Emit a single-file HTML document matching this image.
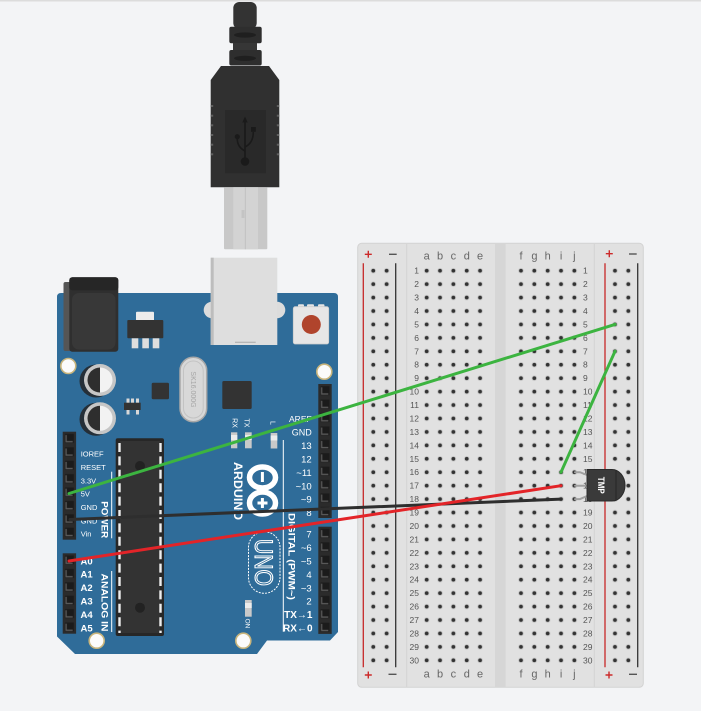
<!DOCTYPE html>
<html><head><meta charset="utf-8"><style>
html,body{margin:0;padding:0;background:#f3f4f6;}
svg{display:block;}
text{font-family:"Liberation Sans",sans-serif;}
.m{font-family:"Liberation Mono","DejaVu Sans Mono",monospace;font-weight:bold;}
</style></head><body>
<svg width="701" height="711" viewBox="0 0 701 711" xmlns="http://www.w3.org/2000/svg">
<defs>
<pattern id="hole" patternUnits="userSpaceOnUse" width="13.35" height="13.435">
<circle cx="6.675" cy="6.72" r="2.9" fill="#cdcdcd"/>
<circle cx="6.675" cy="6.72" r="1.9" fill="#333"/>
</pattern>
<pattern id="pin" patternUnits="userSpaceOnUse" width="13.4" height="13.4">
<rect x="2.2" y="2.2" width="9" height="9" fill="#1b1b1b"/>
<path d="M3.4,3.4V10H10" stroke="#5a5a5a" stroke-width="1.3" fill="none"/>
</pattern>
</defs>
<rect width="701" height="711" fill="#f3f4f6"/>
<rect width="701" height="1.5" fill="#dcdcdc"/>

<!-- ============ BREADBOARD ============ -->
<rect x="357.7" y="243.3" width="285.6" height="444" rx="4" fill="#e1e1e1" stroke="#d3d3d3"/>
<rect x="495" y="243.8" width="10.7" height="443" fill="#d6d6d6"/>
<line x1="406.7" y1="244" x2="406.7" y2="687" stroke="#d4d4d4"/>
<line x1="594.3" y1="244" x2="594.3" y2="687" stroke="#d4d4d4"/>
<!-- rail lines -->
<line x1="363.3" y1="263.3" x2="363.3" y2="667.3" stroke="#c62828" stroke-width="1.3"/>
<line x1="395.7" y1="263.3" x2="395.7" y2="667.3" stroke="#333" stroke-width="1.3"/>
<line x1="605" y1="263.3" x2="605" y2="667.3" stroke="#c62828" stroke-width="1.3"/>
<line x1="637.7" y1="263.3" x2="637.7" y2="667.3" stroke="#333" stroke-width="1.3"/>
<!-- + / - signs -->
<g stroke="#cc2a2a" stroke-width="1.4">
<path d="M364.8,254.3h7M368.3,250.8v7"/>
<path d="M364.8,675h7M368.3,671.5v7"/>
<path d="M605.8,253.7h7M609.3,250.2v7"/>
<path d="M605.5,675h7M609,671.5v7"/>
</g>
<g stroke="#555" stroke-width="1.4">
<path d="M389,254.3h7.7"/>
<path d="M388.5,674.3h8"/>
<path d="M629,254h7.7"/>
<path d="M629,674.3h8"/>
</g>
<!-- holes -->
<g transform="translate(366.6,263.98)"><rect width="26.7" height="403.05" fill="url(#hole)"/></g>
<g transform="translate(420.0,263.98)"><rect width="66.75" height="403.05" fill="url(#hole)"/></g>
<g transform="translate(514.3,263.98)"><rect width="66.75" height="403.05" fill="url(#hole)"/></g>
<g transform="translate(608.3,263.98)"><rect width="26.7" height="403.05" fill="url(#hole)"/></g>
<!-- letters -->
<g font-size="11" fill="#666" text-anchor="middle">
<text x="426.7" y="259.3">a</text><text x="440" y="259.3">b</text><text x="453.4" y="259.3">c</text><text x="466.8" y="259.3">d</text><text x="480.1" y="259.3">e</text>
<text x="521" y="259.3">f</text><text x="534.4" y="259.3">g</text><text x="547.7" y="259.3">h</text><text x="561.1" y="259.3">i</text><text x="574.4" y="259.3">j</text>
<text x="426.7" y="677.3">a</text><text x="440" y="677.3">b</text><text x="453.4" y="677.3">c</text><text x="466.8" y="677.3">d</text><text x="480.1" y="677.3">e</text>
<text x="521" y="677.3">f</text><text x="534.4" y="677.3">g</text><text x="547.7" y="677.3">h</text><text x="561.1" y="677.3">i</text><text x="574.4" y="677.3">j</text>
</g>
<!-- row numbers -->
<g font-size="8.5" fill="#555" text-anchor="end">
<text x="419" y="273.7">1</text><text x="419" y="287.1">2</text><text x="419" y="300.6">3</text><text x="419" y="314">4</text><text x="419" y="327.4">5</text>
<text x="419" y="340.9">6</text><text x="419" y="354.3">7</text><text x="419" y="367.7">8</text><text x="419" y="381.2">9</text><text x="419" y="394.6">10</text>
<text x="419" y="408.1">11</text><text x="419" y="421.5">12</text><text x="419" y="434.9">13</text><text x="419" y="448.4">14</text><text x="419" y="461.8">15</text>
<text x="419" y="475.2">16</text><text x="419" y="488.7">17</text><text x="419" y="502.1">18</text><text x="419" y="515.5">19</text><text x="419" y="529">20</text>
<text x="419" y="542.4">21</text><text x="419" y="555.8">22</text><text x="419" y="569.3">23</text><text x="419" y="582.7">24</text><text x="419" y="596.1">25</text>
<text x="419" y="609.6">26</text><text x="419" y="623">27</text><text x="419" y="636.4">28</text><text x="419" y="649.9">29</text><text x="419" y="663.3">30</text>
</g>
<g font-size="8.5" fill="#555">
<text x="583" y="273.7">1</text><text x="583" y="287.1">2</text><text x="583" y="300.6">3</text><text x="583" y="314">4</text><text x="583" y="327.4">5</text>
<text x="583" y="340.9">6</text><text x="583" y="354.3">7</text><text x="583" y="367.7">8</text><text x="583" y="381.2">9</text><text x="583" y="394.6">10</text>
<text x="583" y="408.1">11</text><text x="583" y="421.5">12</text><text x="583" y="434.9">13</text><text x="583" y="448.4">14</text><text x="583" y="461.8">15</text>
<text x="583" y="475.2">16</text><text x="583" y="488.7">17</text><text x="583" y="502.1">18</text><text x="583" y="515.5">19</text><text x="583" y="529">20</text>
<text x="583" y="542.4">21</text><text x="583" y="555.8">22</text><text x="583" y="569.3">23</text><text x="583" y="582.7">24</text><text x="583" y="596.1">25</text>
<text x="583" y="609.6">26</text><text x="583" y="623">27</text><text x="583" y="636.4">28</text><text x="583" y="649.9">29</text><text x="583" y="663.3">30</text>
</g>

<!-- TMP sensor -->
<g stroke="#a0a0a0" stroke-width="2" fill="none" stroke-linecap="round">
<path d="M575,472.2H580L587,475"/>
<path d="M575,485.7H587"/>
<path d="M575,499.1H580L587,496"/>
</g>
<path d="M587,469.5H612A13,15.75 0 0 1 612,501H587Z" fill="#3a3a3a" stroke="#2a2a2a" stroke-width="1"/>
<line x1="616" y1="470.5" x2="616" y2="500" stroke="#2a2a2a" stroke-width="1.2"/>
<text transform="translate(598.2,485.3) rotate(90)" font-size="9.5" font-weight="bold" fill="#fff" text-anchor="middle" textLength="17" lengthAdjust="spacingAndGlyphs">TMP</text>

<!-- ============ USB PLUG ============ -->
<rect x="233.3" y="2" width="23.4" height="27" rx="6" fill="#333"/>
<rect x="229.3" y="26.7" width="32.4" height="16.6" rx="2" fill="#2e2e2e"/>
<rect x="233" y="43" width="24" height="8" fill="#363636"/>
<rect x="229.3" y="50" width="32.4" height="15.5" rx="2" fill="#2e2e2e"/>
<ellipse cx="245" cy="35" rx="11" ry="2.6" fill="#1f1f1f"/>
<ellipse cx="245" cy="58.3" rx="11" ry="2.6" fill="#1f1f1f"/>
<path d="M221,66H269L279.3,80V187.3H210.7V80Z" fill="#303030"/>
<g fill="#5e5e5e">
<rect x="210.7" y="105" width="2.5" height="2"/><rect x="210.7" y="114.7" width="2.5" height="2"/><rect x="210.7" y="124.3" width="2.5" height="2"/><rect x="210.7" y="134" width="2.5" height="2"/><rect x="210.7" y="143.7" width="2.5" height="2"/><rect x="210.7" y="153.3" width="2.5" height="2"/>
<rect x="276.8" y="105" width="2.5" height="2"/><rect x="276.8" y="114.7" width="2.5" height="2"/><rect x="276.8" y="124.3" width="2.5" height="2"/><rect x="276.8" y="134" width="2.5" height="2"/><rect x="276.8" y="143.7" width="2.5" height="2"/><rect x="276.8" y="153.3" width="2.5" height="2"/>
</g>
<rect x="225" y="110" width="41" height="63.3" fill="#292929"/>
<g stroke="#1a1a1a" stroke-width="1.6" fill="none">
<path d="M245,121V158"/>
<path d="M245,151Q237.3,147 237.3,139"/>
<path d="M245,147Q253.3,143 253.3,132"/>
</g>
<g fill="#1a1a1a">
<path d="M245,116.5L242.3,122.5H247.7Z"/>
<circle cx="237.3" cy="136.7" r="2.6"/>
<rect x="251" y="127" width="4.8" height="4.8"/>
<circle cx="245" cy="161.5" r="4.3"/>
</g>
<rect x="224" y="187.3" width="43.3" height="62" rx="1" fill="#c8c8c8"/>
<rect x="233.3" y="187.3" width="24.7" height="62" fill="#d3d3d3"/>
<line x1="245.3" y1="187.3" x2="245.3" y2="249.3" stroke="#bdbdbd" stroke-width="0.8"/>
<rect x="241.5" y="210" width="3" height="8" fill="#c4c4c4"/>

<!-- ============ ARDUINO ============ -->
<path d="M61,293H334Q338,293 338,297V632L330,640.5H267L257,654H75L57,636.5V297Q57,293 61,293Z" fill="#2f6c99"/>
<!-- USB port on board -->
<circle cx="212" cy="310" r="8.3" fill="#dcdcdc"/>
<circle cx="277" cy="310" r="8.3" fill="#dcdcdc"/>
<rect x="210.7" y="257.7" width="66.6" height="87.3" fill="#dedede"/>
<rect x="210.7" y="257.7" width="3" height="87.3" fill="#bdbdbd"/>
<line x1="235" y1="342.3" x2="255.7" y2="342.3" stroke="#a8a8a8" stroke-width="1"/>
<!-- reset button -->
<rect x="298" y="304.3" width="6" height="4" rx="1" fill="#e4e4e4"/>
<rect x="307" y="304.3" width="7" height="4" rx="1" fill="#e4e4e4"/>
<rect x="318" y="304.3" width="6.5" height="4" rx="1" fill="#e4e4e4"/>
<rect x="293.3" y="306.7" width="35.4" height="37.3" rx="2" fill="#e6e6e6" stroke="#cdcdcd" stroke-width="0.8"/>
<circle cx="311.3" cy="324.5" r="9.5" fill="#b0442c"/>
<!-- power jack -->
<rect x="63.5" y="282" width="10" height="69" rx="2" fill="#555"/>
<rect x="69.3" y="277.3" width="49" height="74.4" rx="3" fill="#2f2f2f"/>
<rect x="69.3" y="277.3" width="49" height="13" rx="3" fill="#262626"/>
<rect x="72" y="293" width="43.5" height="56.5" rx="7" fill="#383838"/>
<!-- regulator -->
<rect x="136" y="311.7" width="18" height="9" rx="1" fill="#ececec"/>
<rect x="127.3" y="320" width="36" height="18.3" rx="1" fill="#333"/>
<g fill="#dedede">
<rect x="131.7" y="338.3" width="6.6" height="10"/><rect x="142.3" y="338.3" width="6.6" height="10"/><rect x="152.7" y="338.3" width="6.6" height="10"/>
</g>
<!-- mounting holes -->
<g fill="#fbfbfb" stroke="#c9b57c" stroke-width="1.6">
<circle cx="68.3" cy="366" r="7.5"/>
<circle cx="324.3" cy="371.7" r="7.5"/>
<circle cx="96.7" cy="640.7" r="7.5"/>
<circle cx="243.3" cy="640.7" r="7.5"/>
</g>
<!-- capacitors -->
<circle cx="96" cy="381" r="16.5" fill="#252f38"/>
<circle cx="100" cy="380" r="16" fill="#c6c6c6"/>
<circle cx="100" cy="380" r="12.5" fill="#f2f2f2"/>
<path d="M100,367.5A12.5,12.5 0 0 0 100,392.5Z" fill="#2e2e2e"/>
<circle cx="96" cy="419.3" r="16.5" fill="#252f38"/>
<circle cx="100" cy="418.3" r="16" fill="#c6c6c6"/>
<circle cx="100" cy="418.3" r="12.5" fill="#f2f2f2"/>
<path d="M100,405.8A12.5,12.5 0 0 0 100,430.8Z" fill="#2e2e2e"/>
<!-- small ic + transistor -->
<rect x="151.7" y="382.7" width="17.3" height="16.6" rx="1.5" fill="#333"/>
<g fill="#d8d8d8">
<rect x="126.5" y="398.5" width="3" height="4.5"/><rect x="131" y="398.5" width="3" height="4.5"/><rect x="136" y="398.5" width="3" height="4.5"/>
<rect x="126.5" y="409.5" width="3" height="5"/><rect x="136" y="409.5" width="3" height="5"/>
</g>
<rect x="124" y="402.7" width="16.7" height="7.3" fill="#333"/>
<!-- crystal -->
<rect x="180" y="357.3" width="26.7" height="64.4" rx="13.3" fill="#d8d8d8" stroke="#a8a8a8" stroke-width="1.5"/>
<rect x="183.5" y="361" width="19.7" height="57" rx="9.8" fill="none" stroke="#c3c3c3" stroke-width="1"/>
<text transform="translate(191,389.5) rotate(90)" font-size="7" fill="#a5a5a5" text-anchor="middle">SK16.000G</text>
<!-- 16U2 -->
<rect x="222.3" y="381" width="29.4" height="28" rx="1.5" fill="#333"/>
<!-- RX TX L LEDs -->
<g font-size="7" fill="#fff" text-anchor="middle">
<text transform="translate(232.7,423) rotate(90)">RX</text>
<text transform="translate(244.4,423) rotate(90)">TX</text>
<text transform="translate(270.7,423) rotate(90)">L</text>
<text transform="translate(245.5,623.5) rotate(90)" font-size="6.5">ON</text>
</g>
<g>
<rect x="231" y="432.3" width="6.3" height="16" fill="#c9c9c9"/><rect x="231" y="435" width="6.3" height="5" fill="#ececec"/>
<rect x="245" y="432.3" width="6.7" height="16" fill="#c9c9c9"/><rect x="245" y="435" width="6.7" height="5" fill="#ececec"/>
<rect x="270.7" y="433" width="6.6" height="15.5" fill="#c9c9c9"/><rect x="270.7" y="435.5" width="6.6" height="5" fill="#ececec"/>
<rect x="245" y="600" width="6.7" height="16.7" fill="#c9c9c9"/><rect x="245" y="603" width="6.7" height="5" fill="#ececec"/>
</g>
<!-- ATmega328 -->
<rect x="115.7" y="438.3" width="48.3" height="197.7" rx="2" fill="#272727"/>
<rect x="120" y="441" width="40" height="192" fill="#333"/>
<g stroke="#eeeeee" stroke-width="2.4" stroke-dasharray="9 4.4">
<line x1="119.5" y1="443" x2="119.5" y2="633"/>
<line x1="160.5" y1="443" x2="160.5" y2="633"/>
</g>
<circle cx="140" cy="466" r="5" fill="#222"/>
<circle cx="140" cy="607.7" r="5" fill="#222"/>
<!-- headers -->
<rect x="62.7" y="431.7" width="13.4" height="108" fill="#2b2b2b"/>
<g transform="translate(62.7,431.7)"><rect width="13.4" height="107.2" fill="url(#pin)"/></g>
<rect x="62.7" y="553.3" width="13.4" height="80.4" fill="#2b2b2b"/>
<g transform="translate(62.7,553.3)"><rect width="13.4" height="80.4" fill="url(#pin)"/></g>
<rect x="318.3" y="384" width="13.4" height="134" fill="#2b2b2b"/>
<g transform="translate(318.3,384)"><rect width="13.4" height="134" fill="url(#pin)"/></g>
<rect x="318.3" y="526.7" width="13.4" height="107.2" fill="#2b2b2b"/>
<g transform="translate(318.3,526.7)"><rect width="13.4" height="107.2" fill="url(#pin)"/></g>
<!-- left labels -->
<g font-size="7.5" fill="#fff">
<text x="80.7" y="456.7">IOREF</text>
<text x="80.7" y="470">RESET</text>
<text x="80.7" y="483.4">3.3V</text>
<text x="80.7" y="496.7">5V</text>
<text x="80.7" y="510">GND</text>
<text x="80.7" y="523.4">GND</text>
<text x="80.7" y="536.7">Vin</text>
</g>
<g class="m" font-size="9.5" fill="#fff">
<text x="80.5" y="564.3">A0</text>
<text x="80.5" y="577.7">A1</text>
<text x="80.5" y="591.1">A2</text>
<text x="80.5" y="604.5">A3</text>
<text x="80.5" y="617.9">A4</text>
<text x="80.5" y="631.3">A5</text>
</g>
<g font-size="9" font-weight="bold" fill="#fff" text-anchor="middle">
<text transform="translate(101.3,519.7) rotate(90)" textLength="37" lengthAdjust="spacingAndGlyphs">POWER</text>
<text transform="translate(101.3,602.5) rotate(90)" textLength="58" lengthAdjust="spacingAndGlyphs">ANALOG IN</text>
<text transform="translate(288.4,556.5) rotate(90)" textLength="87" lengthAdjust="spacingAndGlyphs">DIGITAL (PWM~)</text>
</g>
<line x1="111.7" y1="471.7" x2="111.7" y2="538.3" stroke="#fff" stroke-width="1"/>
<line x1="111.7" y1="571" x2="111.7" y2="632" stroke="#fff" stroke-width="1"/>
<line x1="283.3" y1="440" x2="283.3" y2="631.7" stroke="#fff" stroke-width="1"/>
<!-- right labels -->
<g font-size="9.5" fill="#fff" text-anchor="end">
<text x="311.7" y="422" font-size="8.5">AREF</text>
<text x="311.7" y="435.4" font-size="9">GND</text>
<text x="311.7" y="449.1">13</text>
<text x="311.7" y="462.5">12</text>
<text x="311.7" y="475.9">~11</text>
<text x="311.7" y="489.3">~10</text>
<text x="311.7" y="502.7">~9</text>
<text x="311.7" y="516.1">8</text>
<text x="311.7" y="537.7">7</text>
<text x="311.7" y="551.1">~6</text>
<text x="311.7" y="564.5">~5</text>
<text x="311.7" y="577.9">4</text>
<text x="311.7" y="591.3">~3</text>
<text x="311.7" y="604.7">2</text>
</g>
<g class="m" font-size="10" fill="#fff" text-anchor="end">
<text x="312.5" y="618.1">TX→1</text>
<text x="312.5" y="631.5">RX←0</text>
</g>
<!-- ARDUINO logo -->
<text transform="translate(234,491) rotate(90)" font-size="12" font-weight="bold" fill="#fff" text-anchor="middle" textLength="58" lengthAdjust="spacingAndGlyphs">ARDUINO</text>
<g stroke="#fff" stroke-width="5.5" fill="none">
<ellipse cx="262.5" cy="477.5" rx="13" ry="10.5"/>
<ellipse cx="262.5" cy="503" rx="13" ry="11"/>
</g>
<g fill="#fff">
<rect x="260.9" y="472" width="3" height="10"/>
<rect x="260.9" y="498" width="3" height="10"/>
<rect x="257.5" y="501.5" width="10" height="3"/>
</g>
<!-- UNO -->
<rect x="248.5" y="531.7" width="31.5" height="61.6" rx="15.7" fill="none" stroke="#fff" stroke-width="1" stroke-dasharray="2 1.2"/>
<text transform="translate(255.2,562.5) rotate(90)" font-size="25" fill="none" stroke="#fff" stroke-width="1.1" text-anchor="middle" textLength="47" lengthAdjust="spacingAndGlyphs">UNO</text>

<!-- ============ WIRES ============ -->
<g stroke-width="3" stroke-linecap="round" fill="none">
<line x1="69" y1="493.5" x2="615" y2="324.4" stroke="#3cb440"/>
<line x1="615" y1="351.3" x2="561" y2="472.2" stroke="#3cb440"/>
<line x1="70" y1="519.5" x2="561" y2="499.1" stroke="#2e2e2e"/>
<line x1="69" y1="561" x2="561" y2="485.7" stroke="#e32428"/>
</g>
</svg>
</body></html>
